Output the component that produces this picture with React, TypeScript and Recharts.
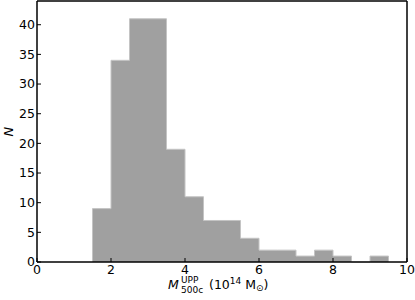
import { Area, ComposedChart, XAxis, YAxis } from "recharts";

// histogram bin edges (10^14 Msun) and counts per bin
const binEdges = [1.5, 2, 2.5, 3, 3.5, 4, 4.5, 5, 5.5, 6, 6.5, 7, 7.5, 8, 8.5, 9, 9.5];
const counts = [9, 34, 41, 41, 19, 11, 7, 7, 4, 2, 2, 1, 2, 1, 0, 1];
const xTicks = [0, 2, 4, 6, 8, 10];
const yTicks = [0, 5, 10, 15, 20, 25, 30, 35, 40];

// step outline: start on the baseline, then one point per bin edge
const data = [
  { x: binEdges[0], n: 0 },
  ...binEdges.map((x, i) => ({ x, n: counts[i] ?? 0 })),
];

const font = "'DejaVu Sans', sans-serif";
const axisLine = { stroke: "#000", strokeWidth: 1.5 };
const tickLine = { stroke: "#000", strokeWidth: 1 };
const tickStyle = { fontSize: 12.5, fill: "#000", fontFamily: font };

const XTitle = ({ viewBox }: any) => {
  const cx = viewBox.x + viewBox.width / 2;
  const x0 = cx - 54;
  const y = 289;
  return (
    <g fontFamily={font} fill="#000">
      <text x={x0} y={y} fontSize={12.5} fontStyle="italic">M</text>
      <text x={x0 + 13} y={y - 6.5} fontSize={9}>UPP</text>
      <text x={x0 + 13} y={y + 4} fontSize={9}>500c</text>
      <text x={x0 + 41} y={y} fontSize={12.5}>
        (10
        <tspan dy={-5} fontSize={9}>14</tspan>
        <tspan dy={5}> M</tspan>
        <tspan dy={2} fontSize={9}>⊙</tspan>
        <tspan dy={-2}>)</tspan>
      </text>
    </g>
  );
};

const YTitle = ({ viewBox }: any) => {
  const cy = viewBox.y + viewBox.height / 2;
  const x = 13;
  return (
    <text
      x={x}
      y={cy}
      transform={`rotate(-90, ${x}, ${cy})`}
      textAnchor="middle"
      fontFamily={font}
      fontSize={13}
      fontStyle="italic"
      fill="#000"
    >
      N
    </text>
  );
};

export default function App() {
  return (
    <div style={{ position: "absolute", left: 0, top: 0 }}>
      <ComposedChart
        width={415}
        height={300}
        data={data}
        margin={{ top: 0, right: 7, left: 0, bottom: 0 }}
      >
        <XAxis
          dataKey="x"
          type="number"
          domain={[0, 10]}
          ticks={xTicks}
          height={38}
          axisLine={axisLine}
          tickLine={tickLine}
          tickSize={-4}
          tickMargin={7}
          tick={tickStyle}
          label={<XTitle />}
        />
        <XAxis
          xAxisId="top"
          orientation="top"
          dataKey="x"
          type="number"
          domain={[0, 10]}
          ticks={xTicks}
          height={1}
          axisLine={axisLine}
          tickLine={tickLine}
          tickSize={-4}
          tick={false}
        />
        <YAxis
          domain={[0, 44]}
          ticks={yTicks}
          width={37}
          axisLine={axisLine}
          tickLine={tickLine}
          tickSize={-4}
          tickMargin={6}
          tick={tickStyle}
          label={<YTitle />}
        />
        <YAxis
          yAxisId="right"
          orientation="right"
          domain={[0, 44]}
          ticks={yTicks}
          width={1}
          axisLine={axisLine}
          tickLine={tickLine}
          tickSize={-4}
          tick={false}
        />
        <Area
          dataKey="n"
          type="stepAfter"
          fill="#a0a0a0"
          fillOpacity={1}
          stroke="#c4c4c4"
          strokeWidth={1}
          isAnimationActive={false}
        />
      </ComposedChart>
    </div>
  );
}
